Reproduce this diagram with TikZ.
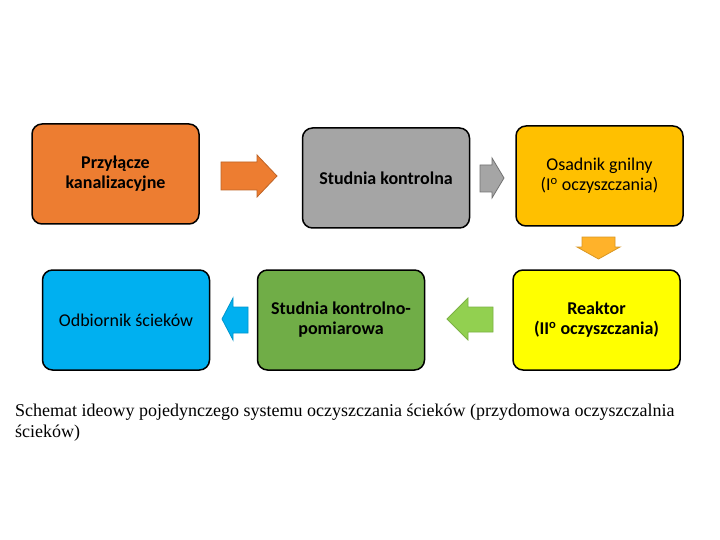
\documentclass[tikz,border=0pt]{standalone}
\usepackage{fontspec}
\setmainfont{Carlito}
\newfontfamily\capfont{Liberation Serif}
\begin{document}
\begin{tikzpicture}[x=1pt,y=-1pt]
\definecolor{cOrange}{HTML}{ED7D31}
\definecolor{cGray}{HTML}{A5A5A5}
\definecolor{cGold}{HTML}{FFC000}
\definecolor{cBlue}{HTML}{00B0F0}
\definecolor{cGreen}{HTML}{70AD47}
\definecolor{cYellow}{HTML}{FFFF00}
\definecolor{cLgreen}{HTML}{92D050}
\definecolor{cDown}{HTML}{FFB22A}
\tikzset{
  box/.style={draw=black, line width=1.5pt, rounded corners=10pt, minimum width=167pt, minimum height=100pt, align=center, font=\fontsize{18}{20}\selectfont, inner sep=0pt},
  barrow/.style={line width=0.8pt, line join=miter},
}
\useasboundingbox (0,0) rectangle (720,540);
\fill[white] (0,0) rectangle (720,540);
\node[box, fill=cOrange] (b1) at (115.5,174) {\bfseries Przyłącze\\\bfseries kanalizacyjne};
\node[box, fill=cGray] (b2) at (386,178) {\bfseries Studnia kontrolna};
\node[box, fill=cGold] (b3) at (599.5,176) {Osadnik gnilny\\(I\textsuperscript{o} oczyszczania)};
\node[box, fill=cBlue] (b4) at (126,320) {Odbiornik ścieków};
\node[box, fill=cGreen] (b5) at (341,320) {\bfseries Studnia kontrolno-\\\bfseries pomiarowa};
\node[box, fill=cYellow] (b6) at (596.5,320) {\bfseries Reaktor\\\bfseries (II\textsuperscript{o} oczyszczania)};
% block arrows
\draw[barrow, fill=cOrange, draw=cOrange!80!black] (221,162) -- (257,162) -- (257,155) -- (277,176) -- (257,197) -- (257,190) -- (221,190) -- cycle;
\draw[barrow, fill=cGray, draw=cGray!70!black] (480,165) -- (492,165) -- (492,158) -- (504,178) -- (492,198) -- (492,192) -- (480,192) -- cycle;
\draw[barrow, fill=cDown, draw=cDown!85!black] (582,237) -- (615,237) -- (615,247) -- (620,247) -- (598.5,259) -- (577,247) -- (582,247) -- cycle;
\draw[barrow, fill=cBlue, draw=cBlue!85!black] (248,307) -- (233,307) -- (233,298) -- (222,319) -- (233,340) -- (233,333) -- (248,333) -- cycle;
\draw[barrow, fill=cLgreen, draw=cLgreen!85!black] (493,307) -- (468,307) -- (468,298) -- (447,319) -- (468,340) -- (468,332) -- (493,332) -- cycle;
\node[anchor=north west, align=left, inner sep=0pt, font=\capfont\fontsize{18}{21}\selectfont] (cap) at (15,404) {Schemat ideowy pojedynczego systemu oczyszczania ścieków (przydomowa oczyszczalnia\\ścieków)};
\end{tikzpicture}
\end{document}
